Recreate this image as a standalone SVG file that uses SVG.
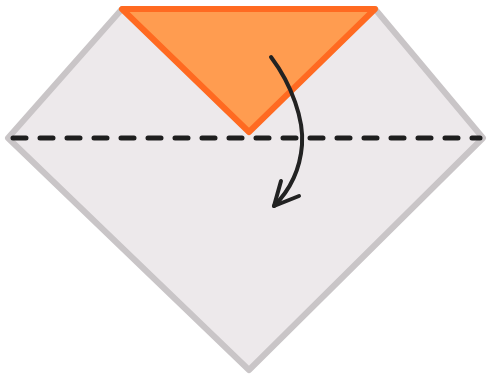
<svg xmlns="http://www.w3.org/2000/svg" width="488" height="379" viewBox="0 0 488 379">
  <style>
    .paper { fill: #ede9eb; stroke: #c9c5c7; stroke-width: 6; stroke-linejoin: round; }
    .flap { fill: #ff9c50; stroke: #ff6a21; stroke-width: 6; stroke-linejoin: round; }
    .fold { fill: none; stroke: #1e1e1e; stroke-width: 5; stroke-dasharray: 13 14; stroke-linecap: round; }
    .arrow { fill: none; stroke: #222; stroke-width: 4; stroke-linecap: round; stroke-linejoin: round; }
  </style>
  <g id="paper">
    <polygon class="paper" points="122,9 375,9 483,138 249,370 8,138"/>
  </g>
  <g id="flap">
    <polygon class="flap" points="122,9 375,9 249,132"/>
  </g>
  <g id="connectors">
    <line class="fold" x1="13" y1="138" x2="480" y2="138"/>
    <path class="arrow" d="M271,57 C292,85 304,120 302,145 C300,170 290,190 274,206"/>
    <path class="arrow" d="M281,181 L274,206 L299,196"/>
  </g>
</svg>
